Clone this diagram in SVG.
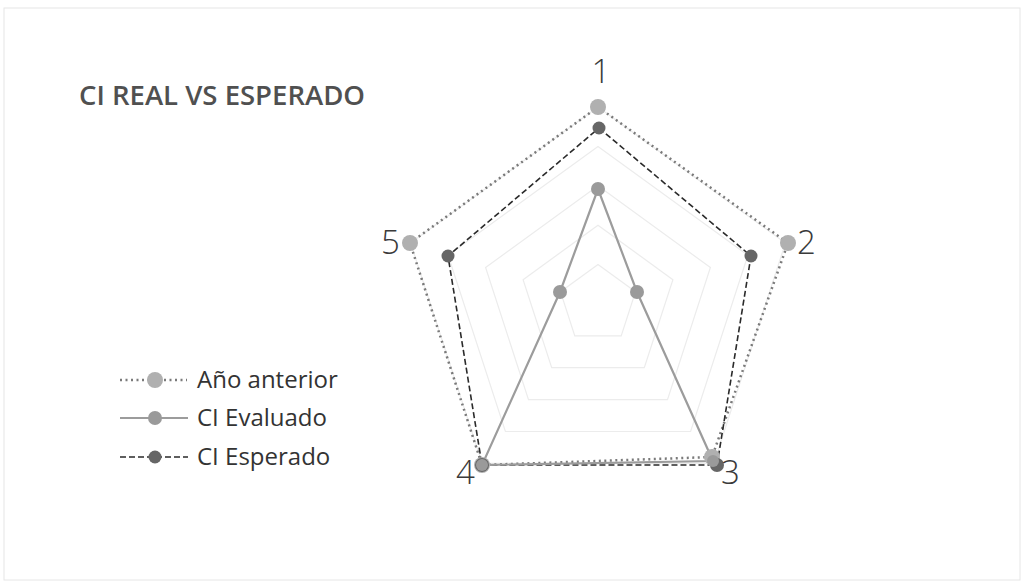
<svg xmlns="http://www.w3.org/2000/svg" width="1025" height="582" viewBox="0 0 1025 582">
  <style>
    .grid { fill: none; stroke: #ececec; stroke-width: 1.2; }
    .anio { fill: none; stroke: #7a7a7a; stroke-width: 2.5; stroke-dasharray: 2 3.5; }
    .eval { fill: none; stroke: #9c9c9c; stroke-width: 2.2; }
    .esp { fill: none; stroke: #2a2a2a; stroke-width: 1.6; stroke-dasharray: 6 3; }
    .manio { fill: #b0b0b0; }
    .meval { fill: #9a9a9a; }
    .mesp { fill: #666666; }
    .axis { font-family: "Open Sans", "Liberation Sans", sans-serif; font-size: 33px; fill: #3a3a3a; font-weight: 300; }
    .leg { font-family: "Open Sans", "Liberation Sans", sans-serif; font-size: 24px; fill: #333333; }
    .title { font-family: "Open Sans", "Liberation Sans", sans-serif; font-size: 27px; font-weight: 600; fill: #505050; }
  </style>
  <rect x="0" y="0" width="1025" height="582" fill="#ffffff"/>
  <rect x="4" y="8" width="1016" height="572" fill="none" stroke="#e6e6e6" stroke-width="1"/>
  <text class="title" x="79" y="105" textLength="286" lengthAdjust="spacingAndGlyphs">CI REAL VS ESPERADO</text>

  <g id="grid">
    <polygon class="grid" points="598,264.6 635.5,291.8 621.2,335.9 574.8,335.9 560.5,291.8"/>
    <polygon class="grid" points="598,225.2 672.9,279.7 644.3,367.7 551.7,367.7 523.1,279.7"/>
    <polygon class="grid" points="598,185.8 710.4,267.5 667.5,399.6 528.5,399.6 485.6,267.5"/>
    <polygon class="grid" points="598,146.4 747.9,255.3 690.6,431.5 505.4,431.5 448.1,255.3"/>
    <polygon class="grid" points="598,107 785.4,243.1 713.8,463.4 482.2,463.4 410.6,243.1"/>
  </g>

  <g id="connectors">
    <polygon id="serie-anio" class="anio" points="598,107 788,243 712,457 482,465 410,243"/>
    <polygon id="serie-esperado" class="esp" points="599,128 751,256 717,465 482,465 448,256"/>
    <polygon id="serie-evaluado" class="eval" points="598,189 637,292 713,461 482,465 560,292"/>
  </g>

  <g id="markers-anio">
    <circle class="manio" cx="598" cy="107" r="8"/>
    <circle class="manio" cx="788" cy="243" r="8"/>
    <circle class="manio" cx="712" cy="457" r="8"/>
    <circle class="manio" cx="482" cy="465" r="8"/>
    <circle class="manio" cx="410" cy="243" r="8"/>
  </g>
  <g id="markers-esperado">
    <circle class="mesp" cx="599" cy="128" r="6.5"/>
    <circle class="mesp" cx="751" cy="256" r="6.5"/>
    <circle class="mesp" cx="717" cy="465" r="7"/>
    <circle class="mesp" cx="482" cy="465" r="7"/>
    <circle class="mesp" cx="448" cy="256" r="6.5"/>
  </g>
  <g id="markers-evaluado">
    <circle class="meval" cx="598" cy="189" r="7"/>
    <circle class="meval" cx="637" cy="292" r="7"/>
    <circle class="meval" cx="713" cy="461" r="6"/>
    <circle class="meval" cx="482" cy="465" r="6"/>
    <circle class="meval" cx="560" cy="292" r="7"/>
  </g>

  <g id="axis-labels">
    <text class="axis" x="601" y="83" text-anchor="middle">1</text>
    <text class="axis" x="797" y="254">2</text>
    <text class="axis" x="721" y="484">3</text>
    <text class="axis" x="456" y="484">4</text>
    <text class="axis" x="381" y="254">5</text>
  </g>

  <g id="legend">
    <g id="legend-anio">
      <line class="anio" x1="120" y1="380" x2="187" y2="380"/>
      <circle class="manio" cx="155" cy="380" r="8"/>
      <text class="leg" x="197" y="388">Año anterior</text>
    </g>
    <g id="legend-evaluado">
      <line class="eval" x1="120" y1="418" x2="188" y2="418"/>
      <circle class="meval" cx="155" cy="418" r="7"/>
      <text class="leg" x="197" y="426">CI Evaluado</text>
    </g>
    <g id="legend-esperado">
      <line class="esp" x1="120" y1="457" x2="188" y2="457"/>
      <circle class="mesp" cx="155" cy="457" r="6.5"/>
      <text class="leg" x="197" y="465">CI Esperado</text>
    </g>
  </g>
</svg>
